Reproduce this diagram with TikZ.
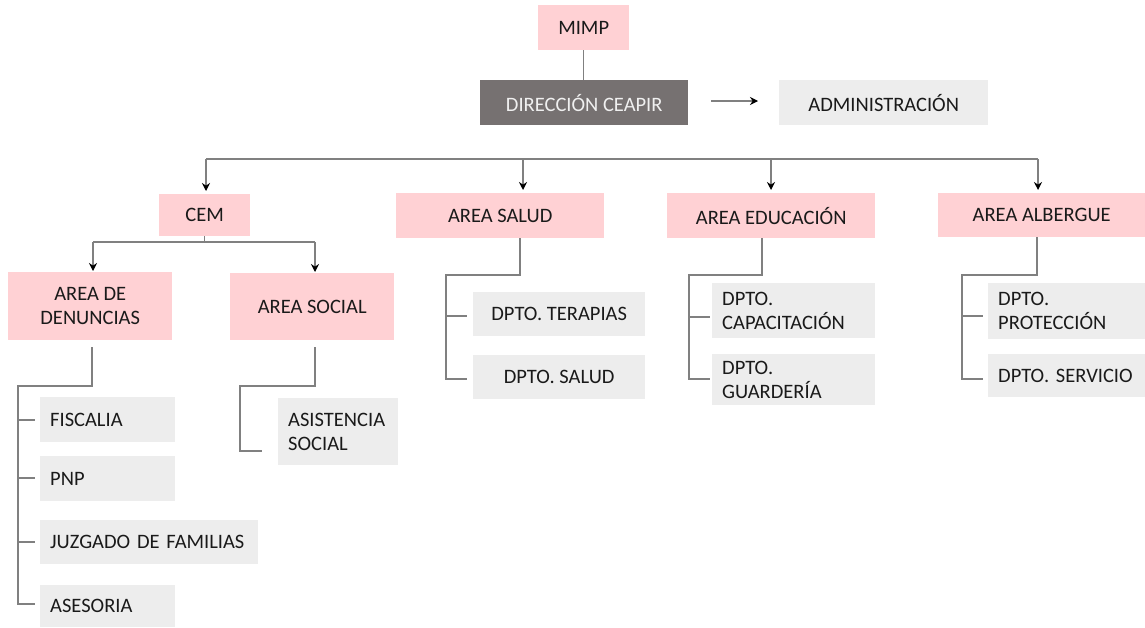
\documentclass[tikz,border=0pt]{standalone}
\usepackage{fontspec}
\setmainfont{Carlito}
\usetikzlibrary{arrows.meta,calc}
\definecolor{pinkc}{HTML}{FFD1D4}
\definecolor{grayc}{HTML}{EDEDED}
\definecolor{darkc}{HTML}{767171}
\definecolor{darktext}{HTML}{F0F0F0}
\definecolor{linec}{HTML}{808080}
\definecolor{textc}{HTML}{1A1A1A}
\tikzset{
  base/.style={anchor=north west, inner sep=0pt, text=textc,
    font=\fontsize{20.5}{24}\selectfont},
  pinkbox/.style={base, fill=pinkc, align=center},
  graybox/.style={base, fill=grayc, align=center},
  grayleft/.style={base, fill=grayc, align=left, inner xsep=10pt},
  darkbox/.style={base, fill=darkc, text=darktext, align=center},
  conn/.style={draw=linec, line width=1.3pt},
  arr/.style={draw=linec, line width=1.3pt, -{Stealth[length=8pt,width=8pt,color=black]}},
}
% box helper: style, name, x1, y1, x2, y2, text
\newcommand\mybox[7]{%
  \node[#1, minimum width=#5pt-#3pt, minimum height=#6pt-#4pt] (#2) at (#3,#4) {#7};}
\newcommand\myleftbox[7]{%
  \node[#1, minimum width=#5pt-#3pt, minimum height=#6pt-#4pt,
    text width=\dimexpr#5pt-#3pt-20pt\relax] (#2) at (#3,#4) {#7};}
\begin{document}
\begin{tikzpicture}[x=1pt,y=-1pt]
\useasboundingbox[fill=white] (0,0) rectangle (1145,627);
% top
\mybox{pinkbox}{mimp}{538}{5}{629}{50}{MIMP}
\mybox{darkbox}{dir}{480}{80}{688}{125}{DIRECCIÓN CEAPIR}
\mybox{graybox}{adm}{779}{80}{988}{125}{ADMINISTRACIÓN}
\draw[conn] (mimp.south) -- (dir.north -| mimp.south);
\coordinate (a1) at (711,101);
\coordinate (a2) at (758,101);
\draw[arr] (a1) -- (a2);
% second level
\mybox{pinkbox}{cem}{159}{194}{250}{236}{CEM}
\mybox{pinkbox}{salud}{396}{193}{604}{238}{AREA SALUD}
\mybox{pinkbox}{edu}{667}{193}{875}{238}{AREA EDUCACIÓN}
\mybox{pinkbox}{alb}{938}{193}{1145}{237}{AREA ALBERGUE}
\coordinate (b1) at (206,159);
\coordinate (b2) at (523,159);
\coordinate (b3) at (771,159);
\coordinate (b4) at (1038,159);
\draw[conn] (b1) -- (b4);
\draw[arr] (b1) -- ($(b1 |- cem.north)+(0,-3)$);
\draw[arr] (b2) -- ($(b2 |- salud.north)+(0,-3)$);
\draw[arr] (b3) -- ($(b3 |- edu.north)+(0,-3)$);
\draw[arr] (b4) -- ($(b4 |- alb.north)+(0,-3)$);
% CEM children
\mybox{pinkbox}{denun}{8}{272}{172}{340}{AREA DE\\DENUNCIAS}
\mybox{pinkbox}{social}{230}{273}{394}{340}{AREA SOCIAL}
\coordinate (c1) at (93,242);
\coordinate (c2) at (315,242);
\draw[conn] (cem.south) -- (cem.south |- c1);
\draw[conn] (c1) -- (c2);
\draw[arr] (c1) -- ($(c1 |- denun.north)+(0,-1)$);
\draw[arr] (c2) -- ($(c2 |- social.north)+(0,-1)$);
% denuncias leaves
\myleftbox{grayleft}{fisc}{40}{397}{175}{442}{FISCALIA}
\myleftbox{grayleft}{pnp}{40}{456}{175}{501}{PNP}
\myleftbox{grayleft}{juz}{40}{520}{258}{564}{JUZGADO DE FAMILIAS}
\myleftbox{grayleft}{ases}{40}{585}{175}{627}{ASESORIA}
\coordinate (d0) at (92,347);
\coordinate (d1) at (92,386);
\coordinate (d2) at (18,386);
\coordinate (d3) at (18,604);
\draw[conn] (d0) -- (d1) -- (d2) -- (d3) -- (35,604);
\draw[conn] (18,420) -- (35,420);
\draw[conn] (18,478) -- (35,478);
\draw[conn] (18,542) -- (35,542);
% social leaves
\myleftbox{grayleft}{asis}{278}{398}{398}{465}{ASISTENCIA\\SOCIAL}
\coordinate (e0) at (315,347);
\draw[conn] (e0) -- (315,386) -- (240,386) -- (240,451) -- (262,451);
% salud leaves
\mybox{graybox}{terap}{473}{292}{645}{336}{DPTO. TERAPIAS}
\mybox{graybox}{dsalud}{473}{355}{645}{399}{DPTO. SALUD}
\draw[conn] (salud.south -| 520,0) -- (520,275) -- (446,275) -- (446,379) -- (467,379);
\draw[conn] (446,316) -- (467,316);
% educacion leaves
\myleftbox{grayleft}{capac}{712}{283}{875}{338}{DPTO.\\CAPACITACIÓN}
\myleftbox{grayleft}{guard}{712}{354}{875}{405}{DPTO.\\GUARDERÍA}
\draw[conn] (edu.south -| 762,0) -- (762,275) -- (689,275) -- (689,379) -- (710,379);
\draw[conn] (689,317) -- (710,317);
% albergue leaves
\myleftbox{grayleft}{prot}{988}{283}{1145}{339}{DPTO.\\PROTECCIÓN}
\myleftbox{grayleft}{serv}{988}{354}{1145}{397}{DPTO. SERVICIO}
\draw[conn] (alb.south -| 1037,0) -- (1037,275) -- (962,275) -- (962,379) -- (983,379);
\draw[conn] (962,316) -- (983,316);
\end{tikzpicture}
\end{document}
